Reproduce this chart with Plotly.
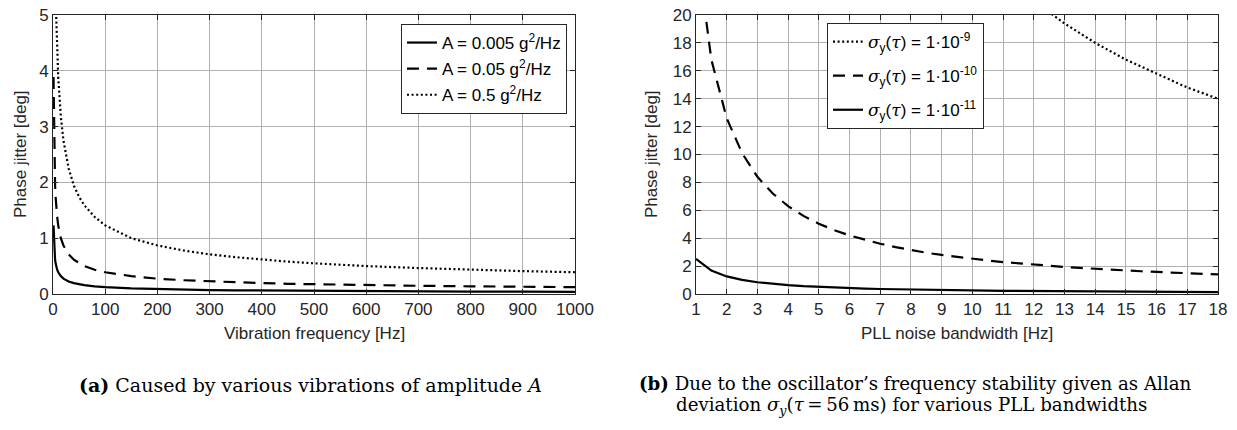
import plotly.graph_objects as go

# ---- data (a): phase jitter vs vibration frequency ----
freq_hz = [1, 2, 3, 4, 5, 6, 8, 10, 15, 20, 30, 40, 50, 60, 80, 100, 150, 200, 250,
           300, 350, 400, 450, 500, 600, 700, 800, 900, 1000]
jit_a0005 = [1.23, 0.87, 0.71, 0.615, 0.55, 0.50, 0.435, 0.39, 0.32, 0.275, 0.225, 0.195,
             0.174, 0.159, 0.138, 0.123, 0.10, 0.087, 0.078, 0.071, 0.066, 0.062, 0.058,
             0.055, 0.050, 0.046, 0.043, 0.041, 0.039]
jit_a005 = [3.89, 2.75, 2.25, 1.95, 1.74, 1.59, 1.38, 1.23, 1.0, 0.87, 0.71, 0.615, 0.55,
            0.50, 0.435, 0.39, 0.32, 0.275, 0.246, 0.225, 0.208, 0.195, 0.183, 0.174,
            0.159, 0.147, 0.138, 0.13, 0.123]
jit_a05 = [12.3, 8.7, 7.1, 6.15, 5.5, 5.02, 4.35, 3.89, 3.18, 2.75, 2.25, 1.94, 1.74,
           1.59, 1.38, 1.23, 1.0, 0.87, 0.78, 0.71, 0.66, 0.615, 0.58, 0.55, 0.50, 0.465,
           0.435, 0.41, 0.39]
names_a = ["A = 0.005 g<sup>2</sup>/Hz", "A = 0.05 g<sup>2</sup>/Hz", "A = 0.5 g<sup>2</sup>/Hz"]

# ---- data (b): phase jitter vs PLL noise bandwidth ----
bw_hz = [1, 1.5, 2, 2.5, 3, 3.5, 4, 4.5, 5, 5.5, 6, 6.5, 7, 7.5, 8, 8.5, 9, 9.5, 10,
         10.5, 11, 11.5, 12, 12.5, 13, 13.5, 14, 14.5, 15, 15.5, 16, 16.5, 17, 17.5, 18]
jit_s11 = [2.52, 1.68, 1.26, 1.01, 0.84, 0.72, 0.63, 0.56, 0.504, 0.458, 0.42, 0.388,
           0.36, 0.336, 0.315, 0.296, 0.28, 0.265, 0.252, 0.24, 0.229, 0.219, 0.21, 0.202,
           0.194, 0.187, 0.18, 0.174, 0.168, 0.163, 0.158, 0.153, 0.148, 0.144, 0.14]
jit_s10 = [25.2, 16.8, 12.6, 10.1, 8.4, 7.2, 6.3, 5.6, 5.04, 4.58, 4.2, 3.88, 3.6, 3.36,
           3.15, 2.96, 2.8, 2.65, 2.52, 2.4, 2.29, 2.19, 2.1, 2.02, 1.94, 1.87, 1.8, 1.74,
           1.68, 1.63, 1.58, 1.53, 1.48, 1.44, 1.4]
jit_s9 = [252, 168, 126, 101, 84, 72, 63, 56, 50.4, 45.8, 42, 38.8, 36, 33.6, 31.5, 29.6,
          28, 26.5, 25.2, 24, 22.9, 21.9, 21, 20.2, 19.4, 18.7, 18, 17.4, 16.8, 16.3,
          15.8, 15.3, 14.8, 14.4, 14]
SIG = '<span style="font-family:DejaVu Serif"><i>σ</i></span>'
TAU = '<span style="font-family:DejaVu Serif"><i>τ</i></span>'
names_b = [f"{SIG}<sub>y</sub>({TAU}) = 1·10<sup>-9</sup>",
           f"{SIG}<sub>y</sub>({TAU}) = 1·10<sup>-10</sup>",
           f"{SIG}<sub>y</sub>({TAU}) = 1·10<sup>-11</sup>"]

x_ticks_a = [0, 100, 200, 300, 400, 500, 600, 700, 800, 900, 1000]
y_ticks_a = [0, 1, 2, 3, 4, 5]
x_ticks_b = list(range(1, 19))
y_ticks_b = [0, 2, 4, 6, 8, 10, 12, 14, 16, 18, 20]

# page has an 8px body margin: figure is drawn 8px right/down of the window corner
OFF = 8
W, H = 1237 - OFF, 430 - OFF
AX = "#262626"
GRID = "#b0b0b0"
LW = 2.2
DASH = "12px,8px"
DOT = "2px,2.6px"
SANS = "Liberation Sans, Arial, sans-serif"

def px(x):
    return (x - OFF) / W

def py(y):
    return 1 - (y - OFF) / H

fig = go.Figure()

styles_a = ["solid", DASH, DOT]
for i, (yv, nm, ds) in enumerate(zip([jit_a0005, jit_a005, jit_a05], names_a, styles_a)):
    fig.add_trace(go.Scatter(x=freq_hz, y=yv, name=nm, mode="lines",
                             line=dict(color="black", width=LW, dash=ds),
                             xaxis="x", yaxis="y", legend="legend", legendgroup=f"a{i}"))

styles_b = [DOT, DASH, "solid"]
for i, (yv, nm, ds) in enumerate(zip([jit_s9, jit_s10, jit_s11], names_b, styles_b)):
    fig.add_trace(go.Scatter(x=bw_hz, y=yv, name=nm, mode="lines",
                             line=dict(color="black", width=LW, dash=ds),
                             xaxis="x2", yaxis="y2", legend="legend2", legendgroup=f"b{i}"))

tickfont = dict(family=SANS, size=17, color=AX)
titlefont = dict(family=SANS, size=17, color=AX)

def axis(domain, rng, ticks, anchor):
    return dict(domain=domain, range=rng, tickvals=ticks, ticks="inside", ticklen=5,
                tickcolor=AX, showline=True, linecolor=AX, linewidth=1, mirror="ticks",
                showgrid=True, gridcolor=GRID, gridwidth=1, zeroline=False,
                tickfont=tickfont, anchor=anchor, automargin=False, fixedrange=True,
                ticklabeloverflow="allow")

ydom = [py(294), py(15)]
fig.update_layout(
    width=W, height=H, margin=dict(l=0, r=0, t=0, b=0, autoexpand=False),
    paper_bgcolor="white", plot_bgcolor="white",
    xaxis=axis([px(53), px(575)], [0, 1000], x_ticks_a, "y"),
    yaxis=axis(ydom, [0, 5], y_ticks_a, "x"),
    xaxis2=axis([px(696), px(1218)], [1, 18], x_ticks_b, "y2"),
    yaxis2=axis(ydom, [0, 20], y_ticks_b, "x2"),
    legend=dict(x=px(567), xanchor="right", y=py(24), yanchor="top",
                bgcolor="white", bordercolor=AX, borderwidth=1,
                font=dict(family=SANS, size=17, color="black"),
                tracegroupgap=1),
    legend2=dict(x=px(827), xanchor="left", y=py(23), yanchor="top",
                 bgcolor="white", bordercolor=AX, borderwidth=1,
                 font=dict(family=SANS, size=17, color="black"),
                 tracegroupgap=9),
    showlegend=True,
)

def txt(text, x, y, font, angle=0, xanchor="center"):
    fig.add_annotation(text=text, x=px(x), y=py(y), xref="paper", yref="paper",
                       xanchor=xanchor, yanchor="middle", showarrow=False, font=font,
                       textangle=angle)

# axis titles
txt("Vibration frequency [Hz]", 314, 333, titlefont)
txt("PLL noise bandwidth [Hz]", 957, 333, titlefont)
txt("Phase jitter [deg]", 20, 154, titlefont, angle=-90)
txt("Phase jitter [deg]", 651, 154, titlefont, angle=-90)

# captions
SERIF = "DejaVu Serif, Liberation Serif, serif"
txt("<b>(a)</b> Caused by various vibrations of amplitude <i>A</i>", 77, 385,
    dict(family=SERIF, size=19, color="black"), xanchor="left")
capb = dict(family=SERIF, size=18.2, color="black")
txt("<b>(b)</b> Due to the oscillator’s frequency stability given as Allan", 637, 383,
    capb, xanchor="left")
txt("deviation <i>σ</i><sub><i>y</i></sub>(<i>τ</i>\u2009=\u200956\u2009ms) for various PLL bandwidths",
    674, 406, capb, xanchor="left")

fig.write_html("out.html")
